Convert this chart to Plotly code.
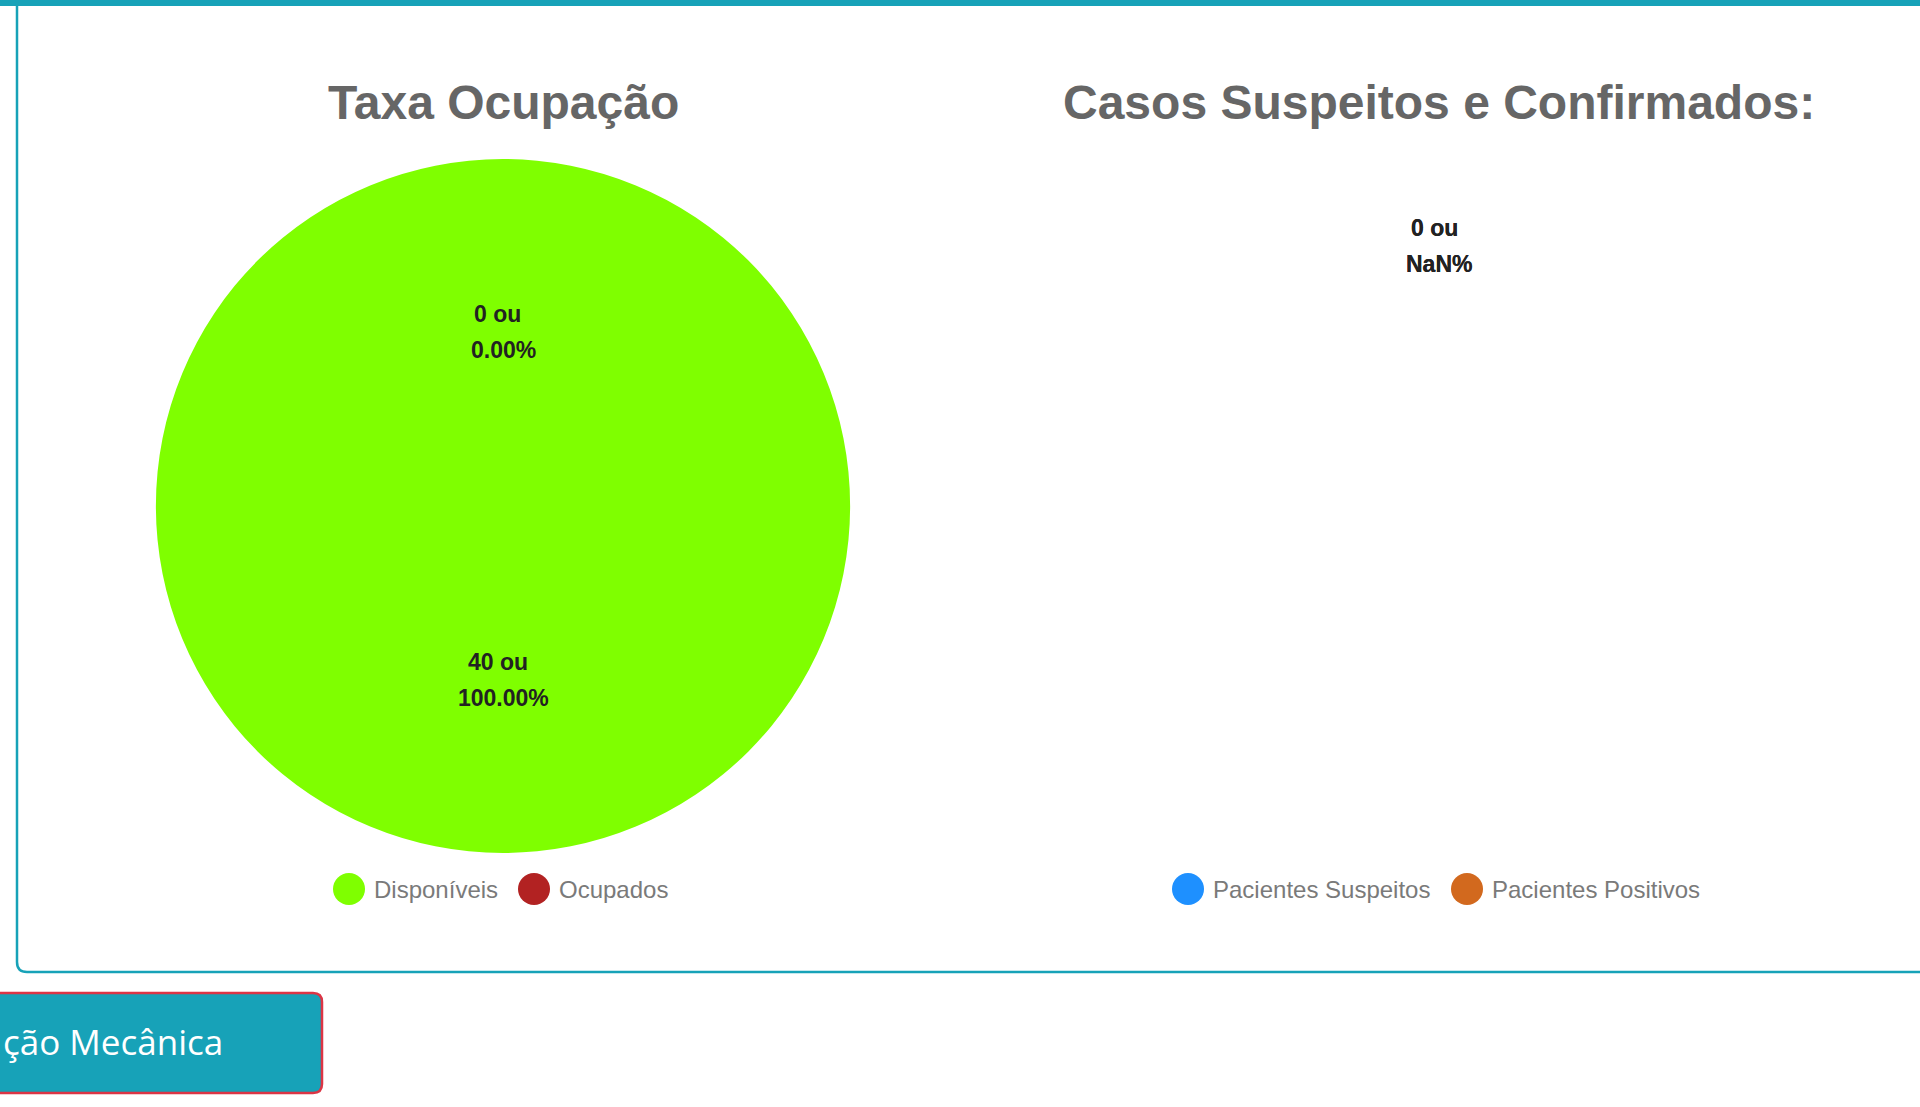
"""Taxa de ocupação e casos suspeitos/confirmados (dois gráficos de pizza)."""

import math

import plotly.graph_objects as go

# ---- dados ----
OCUP_TITLE = "Taxa Ocupação"
OCUP_LABELS = ["Disponíveis", "Ocupados"]
OCUP_VALUES = [40, 0]
OCUP_COLORS = ["#7FFF00", "#B22222"]

CASOS_TITLE = "Casos Suspeitos e Confirmados:"
CASOS_LABELS = ["Pacientes Suspeitos", "Pacientes Positivos"]
CASOS_VALUES = [0, 0]
CASOS_COLORS = ["#1E90FF", "#D2691E"]

BUTTON_TEXT = "ção Mecânica"

W, H = 1920, 1107
TEAL = "#17A2B8"


def px(x):
    return x / W


def py(y):
    return 1 - y / H


def slice_labels(values, cx, cy, r):
    """Posição (pixels) e linhas de texto de cada rótulo, no meio do ângulo da fatia."""
    total = sum(values)
    out = []
    cum = 0.0
    for v in values:
        if total > 0:
            frac = v / total
            mid = (cum + frac / 2) * 2 * math.pi
            cum += frac
            x = cx + 0.5 * r * math.sin(mid)
            y = cy - 0.5 * r * math.cos(mid)
            pct = f"{frac * 100:.2f}%"
        else:
            x, y, pct = cx, cy - 0.75 * r, "NaN%"
        out.append((x, y, [f"{v} ou", pct]))
    return out


fig = go.Figure()
annotations = []
shapes = []

# cartão (bordas)
shapes.append(dict(type="rect", xref="paper", yref="paper",
                   x0=px(0), x1=px(W + 10), y0=py(6), y1=py(-2),
                   fillcolor=TEAL, line=dict(width=0), layer="below"))
shapes.append(dict(type="path", xref="paper", yref="paper",
                   path=(f"M {px(17)},{py(0)} L {px(17)},{py(962)} "
                         f"Q {px(17)},{py(972)} {px(27)},{py(972)} L {px(W + 10)},{py(972)}"),
                   line=dict(color=TEAL, width=2.5)))

# botão (cortado na borda esquerda, como na página)
bx0, bx1, by0, by1, rr = -20, 322, 993, 1093, 9
shapes.append(dict(type="path", xref="paper", yref="paper",
                   path=(f"M {px(bx0)},{py(by0)} L {px(bx1 - rr)},{py(by0)} "
                         f"Q {px(bx1)},{py(by0)} {px(bx1)},{py(by0 + rr)} "
                         f"L {px(bx1)},{py(by1 - rr)} Q {px(bx1)},{py(by1)} {px(bx1 - rr)},{py(by1)} "
                         f"L {px(bx0)},{py(by1)} Z"),
                   fillcolor=TEAL, line=dict(color="#DC3545", width=2.5)))
annotations.append(dict(xref="paper", yref="paper", x=px(1), y=py(1041),
                        xanchor="left", yanchor="middle", showarrow=False,
                        text=BUTTON_TEXT,
                        font=dict(family="Open Sans", size=35, color="white")))

charts = [
    (OCUP_TITLE, OCUP_LABELS, OCUP_VALUES, OCUP_COLORS, 503, [349, 534]),
    (CASOS_TITLE, CASOS_LABELS, CASOS_VALUES, CASOS_COLORS, 1439, [1188, 1467]),
]
cy, r = 506, 347

for title, labels, values, colors, cx, leg_x in charts:
    fig.add_trace(go.Pie(
        labels=labels, values=values, sort=False, direction="clockwise",
        rotation=0, textinfo="none", showlegend=False,
        marker=dict(colors=colors, line=dict(width=0)),
        domain=dict(x=[px(cx - r), px(cx + r)], y=[py(cy + r), py(cy - r)]),
    ))

    annotations.append(dict(xref="paper", yref="paper", x=px(cx), y=py(103),
                            xanchor="center", yanchor="middle", showarrow=False,
                            text=f"<b>{title}</b>",
                            font=dict(family="Liberation Sans, Arial", size=48, color="#666666")))

    # rótulos das fatias (duas linhas, espaçamento maior que o padrão)
    for lx, ly, lines in slice_labels(values, cx, cy, r):
        for i, line in enumerate(lines):
            annotations.append(dict(xref="paper", yref="paper",
                                    x=px(lx - 5 if i == 0 else lx), y=py(ly - 18 + 36 * i),
                                    xanchor="center", yanchor="middle", showarrow=False,
                                    text=f"<b>{line}</b>",
                                    font=dict(family="Liberation Sans, Arial", size=23,
                                              color="#222222")))

    # legenda
    for lab, col, x in zip(labels, colors, leg_x):
        shapes.append(dict(type="circle", xref="paper", yref="paper",
                           x0=px(x - 16), x1=px(x + 16), y0=py(889 + 16), y1=py(889 - 16),
                           fillcolor=col, line=dict(width=0)))
        annotations.append(dict(xref="paper", yref="paper", x=px(x + 23), y=py(889),
                                xanchor="left", yanchor="middle", showarrow=False,
                                text=lab,
                                font=dict(family="Liberation Sans, Arial", size=24, color="#7A7A7A")))

fig.update_layout(
    width=W, height=H,
    margin=dict(l=0, r=0, t=0, b=0),
    paper_bgcolor="white", plot_bgcolor="white",
    shapes=shapes, annotations=annotations,
)

fig.write_html("out.html", config={"displayModeBar": False},
               post_script="document.body.style.margin='0';document.body.style.overflow='hidden';")
